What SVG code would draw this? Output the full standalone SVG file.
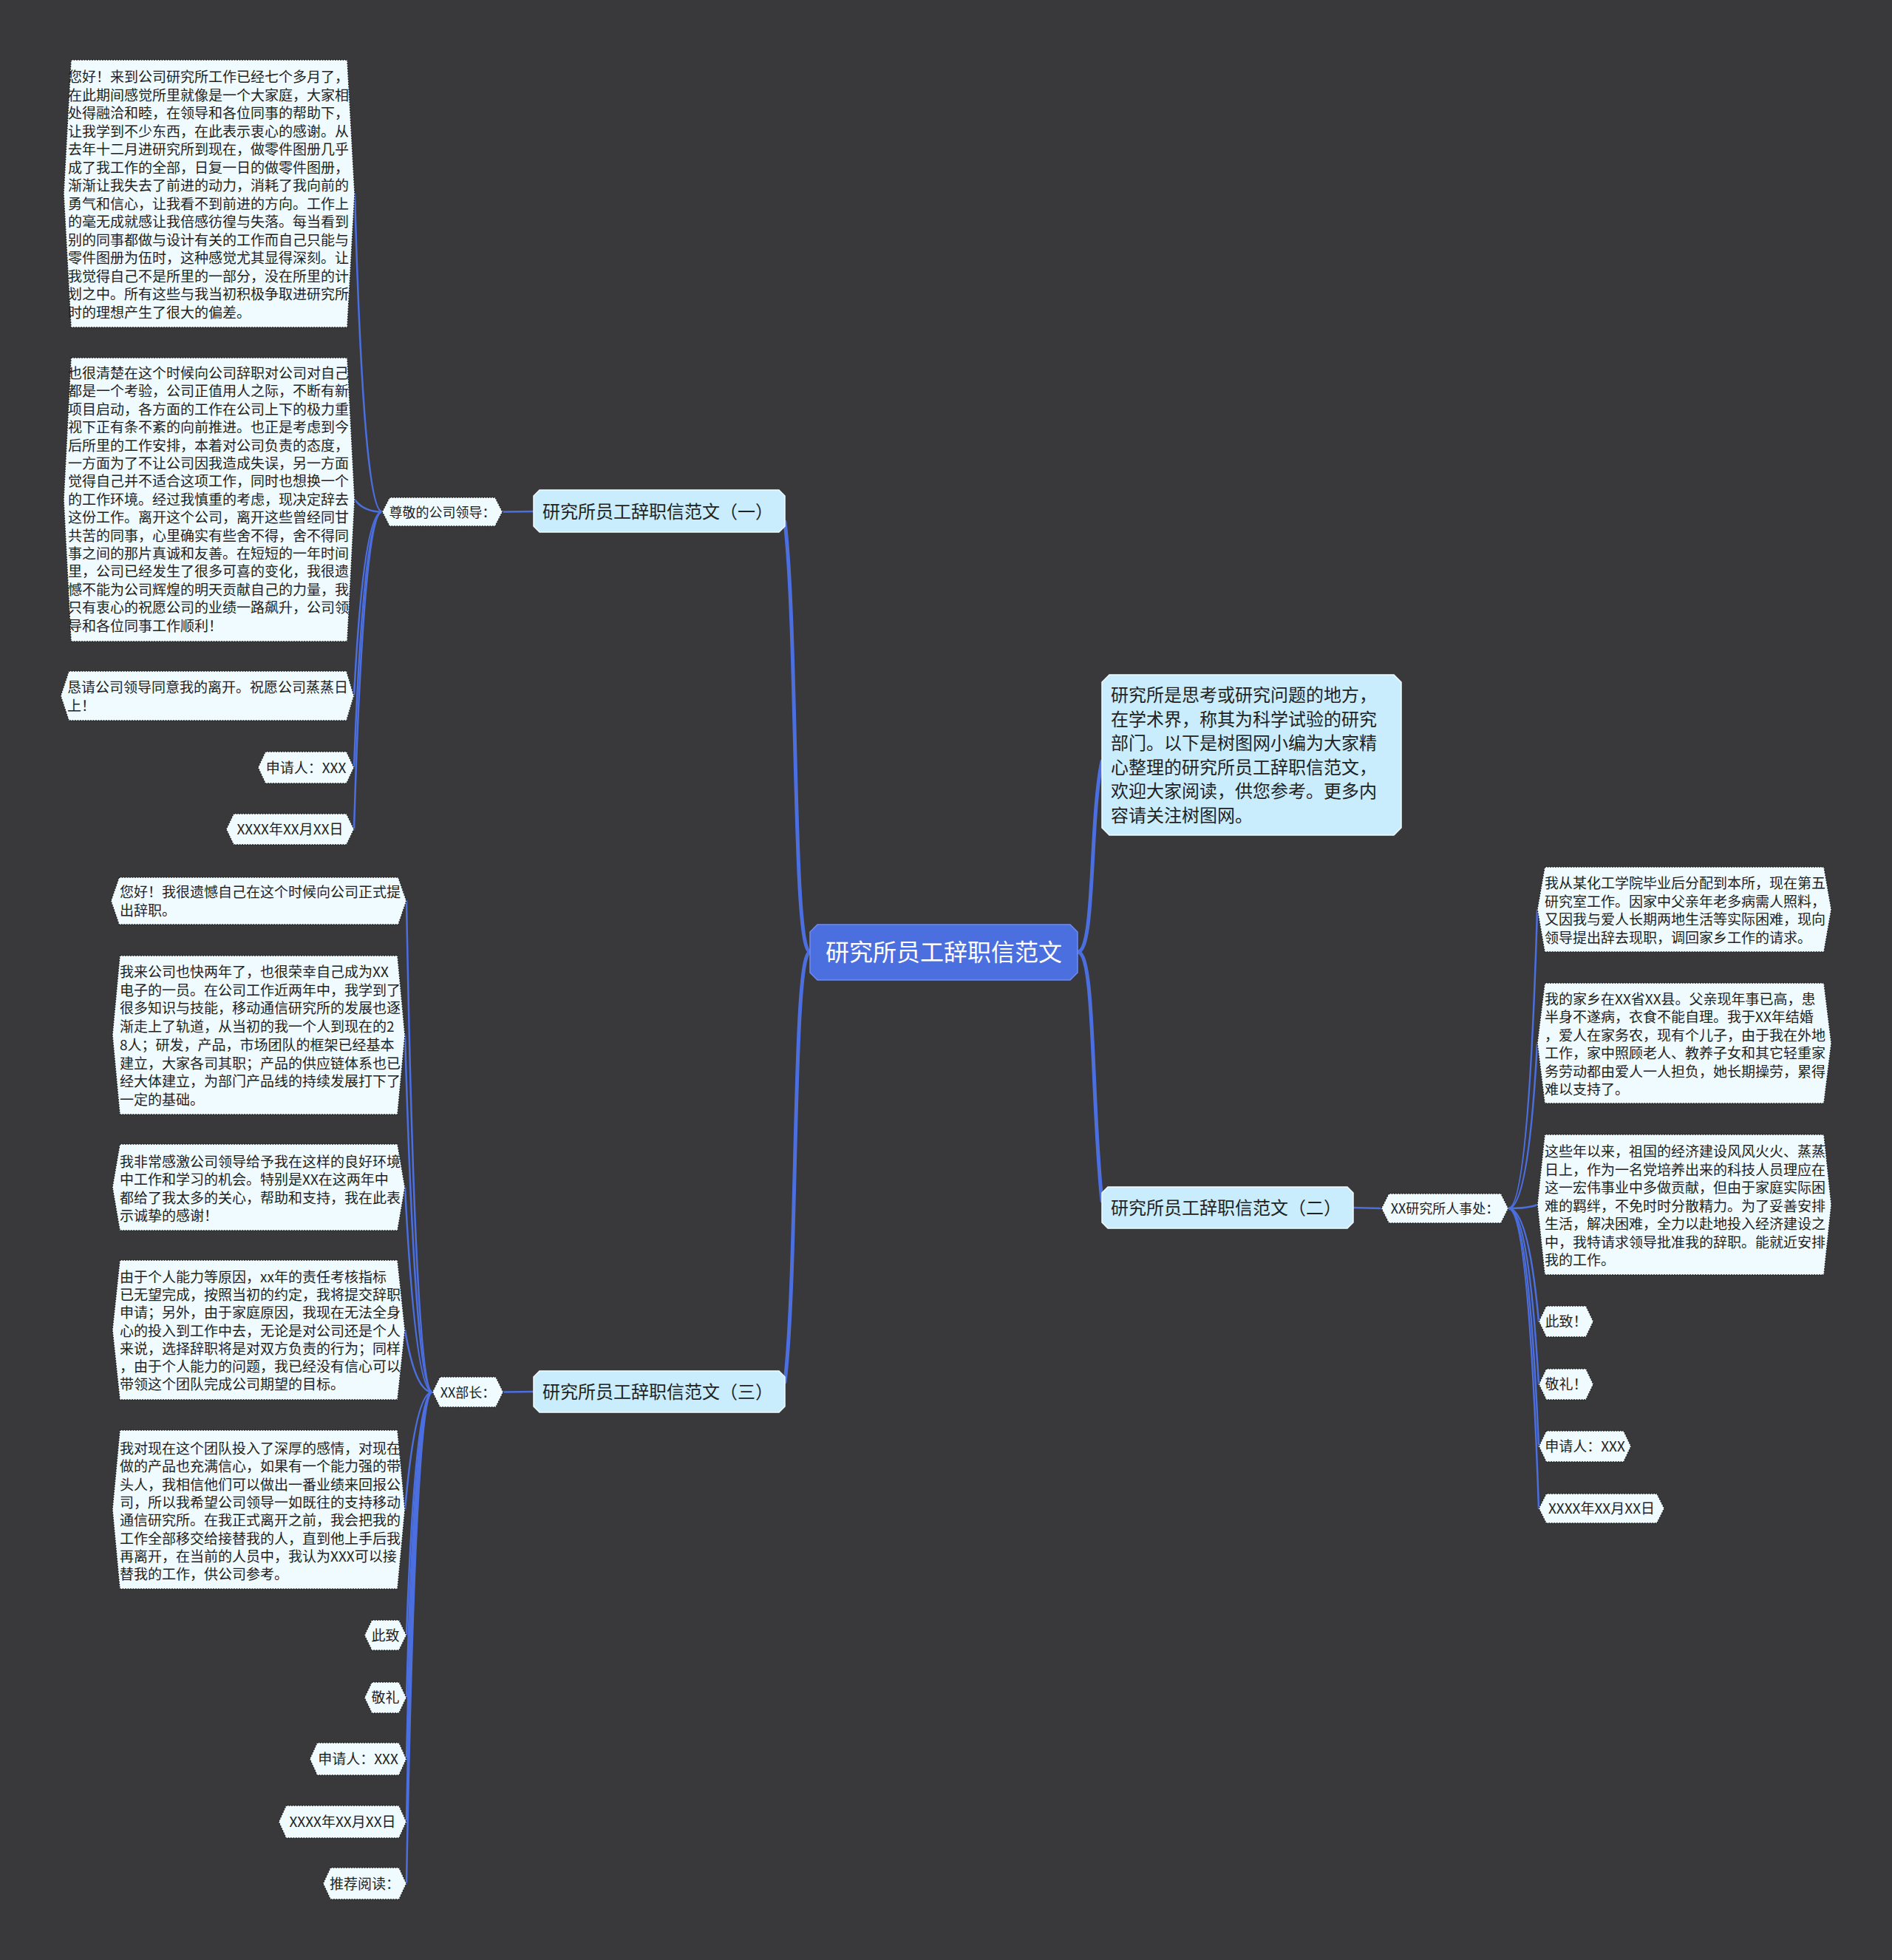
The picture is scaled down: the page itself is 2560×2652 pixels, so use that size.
<svg xmlns="http://www.w3.org/2000/svg" width="2560" height="2652" viewBox="0 0 2560 2652">
<style>
.bg{fill:#39383a}
.conn{fill:none;stroke:#4c6fe0;stroke-width:2.5;stroke-linecap:round}
.main{fill:none;stroke:#4c6fe0;stroke-width:5;stroke-linecap:round}
.leaf{fill:#effbfe;stroke:#262626;stroke-width:1.5;stroke-dasharray:2 1.5}
.branch{fill:#c9edfc;stroke:#f2fbff;stroke-width:1.5}
.root{fill:#4c6fe0;stroke:#6f8cf0;stroke-width:1.5}
text{font-family:"Noto Sans CJK SC","Noto Sans",sans-serif;fill:#222}
.t{font-size:19px}
.s{font-size:18px}
.b{font-size:24px}
.r{font-size:32px;fill:#ffffff}
.m{text-anchor:middle}
</style>
<rect class="bg" x="0" y="0" width="2560" height="2652"/>

<g id="connectors">
<path class="main" d="M1096,1288 C1072,1288 1080,860 1062,706"/>
<path class="main" d="M1096,1288 C1072,1288 1080,1716 1062,1870"/>
<path class="main" d="M1458,1288 C1482,1288 1474,1110 1491,1030"/>
<path class="main" d="M1458,1288 C1482,1288 1476,1480 1491,1625"/>
<path class="conn" d="M680,692.5 L722,692"/>
<path class="conn" d="M681,1883.5 L722,1883"/>
<path class="conn" d="M1831,1634 L1869,1635"/>
<path class="conn" d="M517,692.5 Q492,692.5 480,262"/>
<path class="conn" d="M517,692.5 Q492,692.5 480,676"/>
<path class="conn" d="M517,692.5 Q492,692.5 479,941.5"/>
<path class="conn" d="M517,692.5 Q492,692.5 479,1038.5"/>
<path class="conn" d="M517,692.5 Q492,692.5 479,1122"/>
<path class="conn" d="M585,1883.5 Q562,1883.5 550,1219"/>
<path class="conn" d="M585,1883.5 Q562,1883.5 548,1400.5"/>
<path class="conn" d="M585,1883.5 Q562,1883.5 548,1606.5"/>
<path class="conn" d="M585,1883.5 Q562,1883.5 548,1799.5"/>
<path class="conn" d="M585,1883.5 Q562,1883.5 548,2042.5"/>
<path class="conn" d="M585,1883.5 Q562,1883.5 550,2212.5"/>
<path class="conn" d="M585,1883.5 Q562,1883.5 550,2297"/>
<path class="conn" d="M585,1883.5 Q562,1883.5 550,2380"/>
<path class="conn" d="M585,1883.5 Q562,1883.5 550,2465"/>
<path class="conn" d="M585,1883.5 Q562,1883.5 550,2548.5"/>
<path class="conn" d="M2041,1635 Q2068,1635 2080,1230.5"/>
<path class="conn" d="M2041,1635 Q2068,1635 2080,1411.5"/>
<path class="conn" d="M2041,1635 Q2068,1635 2080,1630"/>
<path class="conn" d="M2041,1635 Q2068,1635 2082,1788"/>
<path class="conn" d="M2041,1635 Q2068,1635 2082,1873"/>
<path class="conn" d="M2041,1635 Q2068,1635 2082,1957"/>
<path class="conn" d="M2041,1635 Q2068,1635 2082,2041"/>
</g>

<g id="root">
<polygon class="root" points="1106,1251 1448,1251 1458,1261 1458,1316 1448,1326 1106,1326 1096,1316 1096,1261"/>
<text class="r m" x="1277" y="1300">研究所员工辞职信范文</text>
</g>

<g id="intro">
<polygon class="branch" points="1501,913 1886,913 1896,923 1896,1120 1886,1130 1501,1130 1491,1120 1491,923"/>
<text class="b" x="1503" y="949">研究所是思考或研究问题的地方，</text>
<text class="b" x="1503" y="981.5">在学术界，称其为科学试验的研究</text>
<text class="b" x="1503" y="1014">部门。以下是树图网小编为大家精</text>
<text class="b" x="1503" y="1046.5">心整理的研究所员工辞职信范文，</text>
<text class="b" x="1503" y="1079">欢迎大家阅读，供您参考。更多内</text>
<text class="b" x="1503" y="1111.5">容请关注树图网。</text>
</g>

<g id="branch1">
<polygon class="branch" points="730,663 1054,663 1062,671 1062,712 1054,720 730,720 722,712 722,671"/>
<text class="b" x="734" y="701">研究所员工辞职信范文（一）</text>
</g>
<g id="branch2">
<polygon class="branch" points="1499,1606 1823,1606 1831,1614 1831,1654 1823,1662 1499,1662 1491,1654 1491,1614"/>
<text class="b" x="1503" y="1643">研究所员工辞职信范文（二）</text>
</g>
<g id="branch3">
<polygon class="branch" points="730,1855 1054,1855 1062,1863 1062,1903 1054,1911 730,1911 722,1903 722,1863"/>
<text class="b" x="734" y="1892">研究所员工辞职信范文（三）</text>
</g>

<g id="n-zunjing">
<polygon class="leaf" points="527,673 670,673 680,692.5 670,712 527,712 517,692.5"/>
<text class="s m" x="598.5" y="699.5">尊敬的公司领导：</text>
</g>
<g id="n-buzhang">
<polygon class="leaf" points="595,1863 671,1863 681,1883.5 671,1904 595,1904 585,1883.5"/>
<text class="s m" x="633" y="1890.5">XX部长：</text>
</g>
<g id="n-renshichu">
<polygon class="leaf" points="1879,1615 2031,1615 2041,1635 2031,1655 1879,1655 1869,1635"/>
<text class="s m" x="1955" y="1642">XX研究所人事处：</text>
</g>

<g id="leaf1-1">
<polygon class="leaf" points="96,81 470,81 480,262 470,443 96,443 86,262"/>
<text class="t" x="92" y="111">您好！来到公司研究所工作已经七个多月了，</text>
<text class="t" x="92" y="135.5">在此期间感觉所里就像是一个大家庭，大家相</text>
<text class="t" x="92" y="160">处得融洽和睦，在领导和各位同事的帮助下，</text>
<text class="t" x="92" y="184.5">让我学到不少东西，在此表示衷心的感谢。从</text>
<text class="t" x="92" y="209">去年十二月进研究所到现在，做零件图册几乎</text>
<text class="t" x="92" y="233.5">成了我工作的全部，日复一日的做零件图册，</text>
<text class="t" x="92" y="258">渐渐让我失去了前进的动力，消耗了我向前的</text>
<text class="t" x="92" y="282.5">勇气和信心，让我看不到前进的方向。工作上</text>
<text class="t" x="92" y="307">的毫无成就感让我倍感彷徨与失落。每当看到</text>
<text class="t" x="92" y="331.5">别的同事都做与设计有关的工作而自己只能与</text>
<text class="t" x="92" y="356">零件图册为伍时，这种感觉尤其显得深刻。让</text>
<text class="t" x="92" y="380.5">我觉得自己不是所里的一部分，没在所里的计</text>
<text class="t" x="92" y="405">划之中。所有这些与我当初积极争取进研究所</text>
<text class="t" x="92" y="429.5">时的理想产生了很大的偏差。</text>
</g>

<g id="leaf1-2">
<polygon class="leaf" points="96,484 470,484 480,676 470,868 96,868 86,676"/>
<text class="t" x="92" y="512">也很清楚在这个时候向公司辞职对公司对自己</text>
<text class="t" x="92" y="536.4">都是一个考验，公司正值用人之际，不断有新</text>
<text class="t" x="92" y="560.8">项目启动，各方面的工作在公司上下的极力重</text>
<text class="t" x="92" y="585.2">视下正有条不紊的向前推进。也正是考虑到今</text>
<text class="t" x="92" y="609.6">后所里的工作安排，本着对公司负责的态度，</text>
<text class="t" x="92" y="634">一方面为了不让公司因我造成失误，另一方面</text>
<text class="t" x="92" y="658.4">觉得自己并不适合这项工作，同时也想换一个</text>
<text class="t" x="92" y="682.8">的工作环境。经过我慎重的考虑，现决定辞去</text>
<text class="t" x="92" y="707.2">这份工作。离开这个公司，离开这些曾经同甘</text>
<text class="t" x="92" y="731.6">共苦的同事，心里确实有些舍不得，舍不得同</text>
<text class="t" x="92" y="756">事之间的那片真诚和友善。在短短的一年时间</text>
<text class="t" x="92" y="780.4">里，公司已经发生了很多可喜的变化，我很遗</text>
<text class="t" x="92" y="804.8">憾不能为公司辉煌的明天贡献自己的力量，我</text>
<text class="t" x="92" y="829.2">只有衷心的祝愿公司的业绩一路飙升，公司领</text>
<text class="t" x="92" y="853.6">导和各位同事工作顺利！</text>
</g>

<g id="leaf1-3">
<polygon class="leaf" points="93,908 469,908 479,941.5 469,975 93,975 82,941.5"/>
<text class="t" x="91" y="937">恳请公司领导同意我的离开。祝愿公司蒸蒸日</text>
<text class="t" x="91" y="962">上！</text>
</g>
<g id="leaf1-4">
<polygon class="leaf" points="359,1017 469,1017 479,1038.5 469,1060 359,1060 349,1038.5"/>
<text class="t m" x="414" y="1045.5">申请人：XXX</text>
</g>
<g id="leaf1-5">
<polygon class="leaf" points="316,1101 469,1101 479,1122 469,1143 316,1143 306,1122"/>
<text class="t m" x="392.5" y="1129">XXXX年XX月XX日</text>
</g>

<g id="leaf3-1">
<polygon class="leaf" points="161,1187 539,1187 550,1219 539,1251 161,1251 150,1219"/>
<text class="t" x="162" y="1214">您好！我很遗憾自己在这个时候向公司正式提</text>
<text class="t" x="162" y="1239">出辞职。</text>
</g>
<g id="leaf3-2">
<polygon class="leaf" points="162,1293 538,1293 548,1400.5 538,1508 162,1508 152,1400.5"/>
<text class="t" x="162" y="1322">我来公司也快两年了，也很荣幸自己成为XX</text>
<text class="t" x="162" y="1346.7">电子的一员。在公司工作近两年中，我学到了</text>
<text class="t" x="162" y="1371.4">很多知识与技能，移动通信研究所的发展也逐</text>
<text class="t" x="162" y="1396.1">渐走上了轨道，从当初的我一个人到现在的2</text>
<text class="t" x="162" y="1420.8">8人；研发，产品，市场团队的框架已经基本</text>
<text class="t" x="162" y="1445.5">建立，大家各司其职；产品的供应链体系也已</text>
<text class="t" x="162" y="1470.2">经大体建立，为部门产品线的持续发展打下了</text>
<text class="t" x="162" y="1494.9">一定的基础。</text>
</g>
<g id="leaf3-3">
<polygon class="leaf" points="162,1548 538,1548 548,1606.5 538,1665 162,1665 152,1606.5"/>
<text class="t" x="162" y="1579">我非常感激公司领导给予我在这样的良好环境</text>
<text class="t" x="162" y="1603.4">中工作和学习的机会。特别是XX在这两年中</text>
<text class="t" x="162" y="1627.8">都给了我太多的关心，帮助和支持，我在此表</text>
<text class="t" x="162" y="1652.2">示诚挚的感谢！</text>
</g>
<g id="leaf3-4">
<polygon class="leaf" points="162,1705 538,1705 548,1799.5 538,1894 162,1894 152,1799.5"/>
<text class="t" x="162" y="1735">由于个人能力等原因，xx年的责任考核指标</text>
<text class="t" x="162" y="1759.2">已无望完成，按照当初的约定，我将提交辞职</text>
<text class="t" x="162" y="1783.4">申请；另外，由于家庭原因，我现在无法全身</text>
<text class="t" x="162" y="1807.6">心的投入到工作中去，无论是对公司还是个人</text>
<text class="t" x="162" y="1831.8">来说，选择辞职将是对双方负责的行为；同样</text>
<text class="t" x="162" y="1856">，由于个人能力的问题，我已经没有信心可以</text>
<text class="t" x="162" y="1880.2">带领这个团队完成公司期望的目标。</text>
</g>
<g id="leaf3-5">
<polygon class="leaf" points="162,1935 538,1935 548,2042.5 538,2150 162,2150 152,2042.5"/>
<text class="t" x="162" y="1967">我对现在这个团队投入了深厚的感情，对现在</text>
<text class="t" x="162" y="1991.3">做的产品也充满信心，如果有一个能力强的带</text>
<text class="t" x="162" y="2015.6">头人，我相信他们可以做出一番业绩来回报公</text>
<text class="t" x="162" y="2039.9">司，所以我希望公司领导一如既往的支持移动</text>
<text class="t" x="162" y="2064.2">通信研究所。在我正式离开之前，我会把我的</text>
<text class="t" x="162" y="2088.5">工作全部移交给接替我的人，直到他上手后我</text>
<text class="t" x="162" y="2112.8">再离开，在当前的人员中，我认为XXX可以接</text>
<text class="t" x="162" y="2137.1">替我的工作，供公司参考。</text>
</g>
<g id="leaf3-6">
<polygon class="leaf" points="503,2192 540,2192 550,2212.5 540,2233 503,2233 493,2212.5"/>
<text class="t m" x="521.5" y="2219.5">此致</text>
</g>
<g id="leaf3-7">
<polygon class="leaf" points="503,2276 540,2276 550,2297 540,2318 503,2318 493,2297"/>
<text class="t m" x="521.5" y="2304">敬礼</text>
</g>
<g id="leaf3-8">
<polygon class="leaf" points="429,2358 540,2358 550,2380 540,2402 429,2402 419,2380"/>
<text class="t m" x="484.5" y="2387">申请人：XXX</text>
</g>
<g id="leaf3-9">
<polygon class="leaf" points="387,2443 540,2443 550,2465 540,2487 387,2487 377,2465"/>
<text class="t m" x="463.5" y="2472">XXXX年XX月XX日</text>
</g>
<g id="leaf3-10">
<polygon class="leaf" points="447,2527 540,2527 550,2548.5 540,2570 447,2570 437,2548.5"/>
<text class="t m" x="493.5" y="2555.5">推荐阅读：</text>
</g>

<g id="leaf2-1">
<polygon class="leaf" points="2090,1173 2468,1173 2478,1230.5 2468,1288 2090,1288 2080,1230.5"/>
<text class="t" x="2090" y="1202">我从某化工学院毕业后分配到本所，现在第五</text>
<text class="t" x="2090" y="1226.5">研究室工作。因家中父亲年老多病需人照料，</text>
<text class="t" x="2090" y="1251">又因我与爱人长期两地生活等实际困难，现向</text>
<text class="t" x="2090" y="1275.5">领导提出辞去现职，调回家乡工作的请求。</text>
</g>
<g id="leaf2-2">
<polygon class="leaf" points="2090,1330 2468,1330 2478,1411.5 2468,1493 2090,1493 2080,1411.5"/>
<text class="t" x="2090" y="1359">我的家乡在XX省XX县。父亲现年事已高，患</text>
<text class="t" x="2090" y="1383.4">半身不遂病，衣食不能自理。我于XX年结婚</text>
<text class="t" x="2090" y="1407.8">，爱人在家务农，现有个儿子，由于我在外地</text>
<text class="t" x="2090" y="1432.2">工作，家中照顾老人、教养子女和其它轻重家</text>
<text class="t" x="2090" y="1456.6">务劳动都由爱人一人担负，她长期操劳，累得</text>
<text class="t" x="2090" y="1481">难以支持了。</text>
</g>
<g id="leaf2-3">
<polygon class="leaf" points="2090,1535 2468,1535 2478,1630 2468,1725 2090,1725 2080,1630"/>
<text class="t" x="2090" y="1565">这些年以来，祖国的经济建设风风火火、蒸蒸</text>
<text class="t" x="2090" y="1589.5">日上，作为一名党培养出来的科技人员理应在</text>
<text class="t" x="2090" y="1614">这一宏伟事业中多做贡献，但由于家庭实际困</text>
<text class="t" x="2090" y="1638.5">难的羁绊，不免时时分散精力。为了妥善安排</text>
<text class="t" x="2090" y="1663">生活，解决困难，全力以赴地投入经济建设之</text>
<text class="t" x="2090" y="1687.5">中，我特请求领导批准我的辞职。能就近安排</text>
<text class="t" x="2090" y="1712">我的工作。</text>
</g>
<g id="leaf2-4">
<polygon class="leaf" points="2092,1767 2146,1767 2156,1788 2146,1809 2092,1809 2082,1788"/>
<text class="t m" x="2119" y="1795">此致！</text>
</g>
<g id="leaf2-5">
<polygon class="leaf" points="2092,1852 2146,1852 2156,1873 2146,1894 2092,1894 2082,1873"/>
<text class="t m" x="2119" y="1880">敬礼！</text>
</g>
<g id="leaf2-6">
<polygon class="leaf" points="2092,1936 2197,1936 2207,1957 2197,1978 2092,1978 2082,1957"/>
<text class="t m" x="2144.5" y="1964">申请人：XXX</text>
</g>
<g id="leaf2-7">
<polygon class="leaf" points="2092,2021 2242,2021 2252,2041 2242,2061 2092,2061 2082,2041"/>
<text class="t m" x="2167" y="2048">XXXX年XX月XX日</text>
</g>
</svg>
